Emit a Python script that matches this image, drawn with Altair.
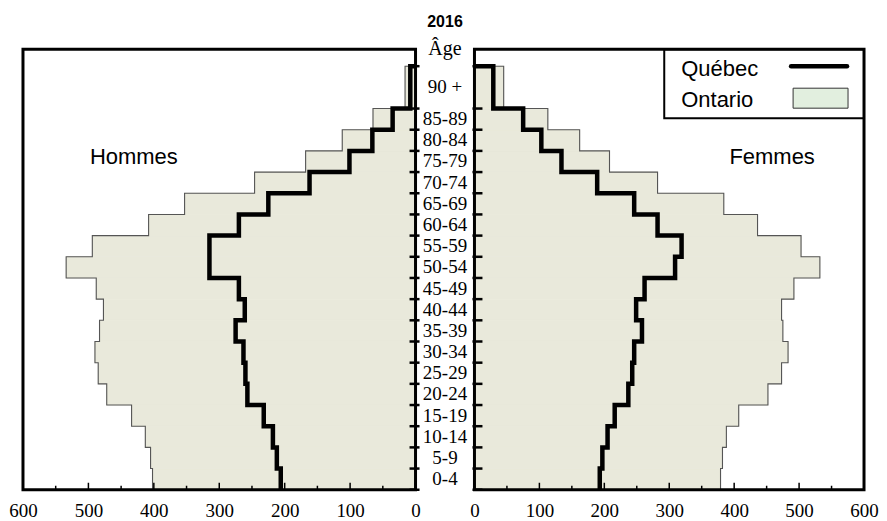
import altair as alt
import pandas as pd

age_labels = ["0-4", "5-9", "10-14", "15-19", "20-24", "25-29", "30-34", "35-39",
              "40-44", "45-49", "50-54", "55-59", "60-64", "65-69", "70-74", "75-79",
              "80-84", "85-89", "90 +"]
age_start = [0, 5, 10, 15, 20, 25, 30, 35, 40, 45, 50, 55, 60, 65, 70, 75, 80, 85, 90]
age_end = [5, 10, 15, 20, 25, 30, 35, 40, 45, 50, 55, 60, 65, 70, 75, 80, 85, 90, 100]

ontario_hommes = [402, 405, 413, 434, 472, 485, 490, 483, 477, 488, 534, 494, 408, 353, 246, 168, 112, 65, 16]
quebec_hommes = [206, 212, 218, 232, 257, 260, 263, 275, 261, 270, 315, 315, 270, 225, 162, 101, 66, 35, 8]
ontario_femmes = [379, 382, 388, 407, 452, 473, 483, 475, 473, 492, 532, 503, 436, 384, 282, 208, 162, 113, 45]
quebec_femmes = [193, 197, 205, 216, 237, 243, 246, 258, 249, 262, 309, 319, 282, 246, 189, 134, 103, 75, 29]

major_ticks = [0, 100, 200, 300, 400, 500, 600]
minor_ticks = [50, 150, 250, 350, 450, 550]
legend_labels = ["Québec", "Ontario"]

FILL = "#e9e9db"
H = 441
WL, WM, WR = 393, 59, 390
SERIF = "Liberation Serif"
SANS = "Liberation Sans"

yscale = alt.Scale(domain=[0, 104], nice=False, zero=False)
boundaries = pd.DataFrame({"b": age_start + [age_end[-1]]})


def step_df(values):
    n = len(values)
    return pd.DataFrame({
        "age": age_start + [age_end[-1]],
        "v": values + [0],
        "o": list(range(n + 1)),
    })


def bar_df(values):
    return pd.DataFrame({
        "s": age_start,
        "e": age_end,
        "v": values,
        "z": [0] * len(values),
    })


def tick_df(values):
    return pd.DataFrame({"v": values, "y0": [0] * len(values)})


def panel(ont, qc, reverse, W, side_text, side_x, tick_x0, tick_x1, legend=False):
    xs = alt.Scale(domain=[0, 600], reverse=reverse, nice=False, zero=False)
    xaxis = alt.Axis(values=major_ticks, title=None, ticks=False, tickSize=0, domain=False,
                     grid=False, labelFont=SERIF, labelFontSize=19, labelColor="black",
                     labelPadding=12, labelFlush=False, labelOverlap=False, format="d")

    def X(field):
        return alt.X(field, type="quantitative", scale=xs, axis=xaxis)

    def Y(field):
        return alt.Y(field, type="quantitative", scale=yscale, axis=None)

    bars = alt.Chart(bar_df(ont)).mark_rect(
        fill=FILL, stroke=FILL, strokeWidth=0.8
    ).encode(x=X("v"), x2=alt.X2("z"), y=Y("s"), y2=alt.Y2("e"))

    ont_df = step_df(ont)
    qc_df = step_df(qc)

    outline = alt.Chart(ont_df).mark_line(
        interpolate="step-before", color="#555555", strokeWidth=1.1
    ).encode(x=X("v"), y=Y("age"), order=alt.Order("o:Q"))

    qline = alt.Chart(qc_df).mark_line(
        interpolate="step-before", color="black", strokeWidth=4.5, strokeJoin="miter"
    ).encode(x=X("v"), y=Y("age"), order=alt.Order("o:Q"))

    major = alt.Chart(tick_df(major_ticks)).mark_rule(
        color="black", strokeWidth=1.5
    ).encode(x=X("v"), y=Y("y0"), y2=alt.value(H - 7))

    minor = alt.Chart(tick_df(minor_ticks)).mark_rule(
        color="black", strokeWidth=1.5
    ).encode(x=X("v"), y=Y("y0"), y2=alt.value(H - 4))

    ageticks = alt.Chart(boundaries).mark_tick(
        color="black", orient="horizontal", size=10, thickness=2.5, opacity=1
    ).encode(y=Y("b"), x=alt.value((tick_x0 + tick_x1) / 2))

    frame = alt.Chart(pd.DataFrame({"a": [0]})).mark_rect(
        filled=False, stroke="black", strokeWidth=3
    ).encode(x=alt.value(0), x2=alt.value(W), y=alt.value(0), y2=alt.value(H))

    side = alt.Chart(pd.DataFrame({"t": [side_text]})).mark_text(
        font=SANS, fontSize=22, color="black", align="center", baseline="alphabetic"
    ).encode(text="t:N", x=alt.value(side_x), y=alt.value(115))

    layers = [bars, outline, qline, major, minor, ageticks, side]

    if legend:
        box = alt.Chart(pd.DataFrame({"a": [0]})).mark_rect(
            fill="white", stroke="black", strokeWidth=2
        ).encode(x=alt.value(W - 200), x2=alt.value(W), y=alt.value(0), y2=alt.value(69))
        ltext = alt.Chart(pd.DataFrame({"t": legend_labels, "yy": [27, 58]})).mark_text(
            font=SANS, fontSize=22, color="black", align="left", baseline="alphabetic"
        ).encode(text="t:N", x=alt.value(W - 183), y=alt.Y("yy:Q", scale=None, axis=None))
        lline = alt.Chart(pd.DataFrame({"t": [legend_labels[0]]})).mark_rule(
            color="black", strokeWidth=4.5, strokeCap="round"
        ).encode(x=alt.value(W - 73), x2=alt.value(W - 17), y=alt.value(17))
        lrect = alt.Chart(pd.DataFrame({"t": [legend_labels[1]]})).mark_rect(
            fill="#e2efdf", stroke="#333333", strokeWidth=1
        ).encode(x=alt.value(W - 71), x2=alt.value(W - 16), y=alt.value(39), y2=alt.value(59))
        layers += [box, ltext, lline, lrect]

    layers.append(frame)
    return alt.layer(*layers).properties(
        width=W, height=H, view=alt.ViewBackground(stroke="transparent"))


left = panel(ontario_hommes, quebec_hommes, True, WL, "Hommes", 111, WL - 6, WL + 4)
right = panel(ontario_femmes, quebec_femmes, False, WR, "Femmes", 298, -2, 8, legend=True)

mid_df = pd.DataFrame({
    "lab": age_labels,
    "mid": [(a + b) / 2 for a, b in zip(age_start, age_end)],
})
mid_labels = alt.Chart(mid_df).mark_text(
    font=SERIF, fontSize=19, color="black", align="center", baseline="middle"
).encode(text="lab:N", x=alt.value(WM / 2),
         y=alt.Y("mid:Q", scale=yscale, axis=None))
age_title = alt.Chart(pd.DataFrame({"t": ["Âge"]})).mark_text(
    font=SERIF, fontSize=20, color="black", align="center", baseline="alphabetic"
).encode(text="t:N", x=alt.value(WM / 2), y=alt.value(6))
year_title = alt.Chart(pd.DataFrame({"t": ["2016"]})).mark_text(
    font=SANS, fontSize=16, fontWeight="bold", color="black", align="center",
    baseline="alphabetic"
).encode(text="t:N", x=alt.value(WM / 2), y=alt.value(-22))

middle = alt.layer(mid_labels, age_title, year_title).properties(
    width=WM, height=H, view=alt.ViewBackground(stroke="transparent"))

chart = alt.hconcat(left, middle, right, spacing=0, bounds="flush").properties(
    padding={"left": 0, "top": 5, "right": 0, "bottom": 0}
).configure_view(stroke="transparent").configure(background="white")

chart.save("out.html", embed_options={"renderer": "svg", "actions": False})
